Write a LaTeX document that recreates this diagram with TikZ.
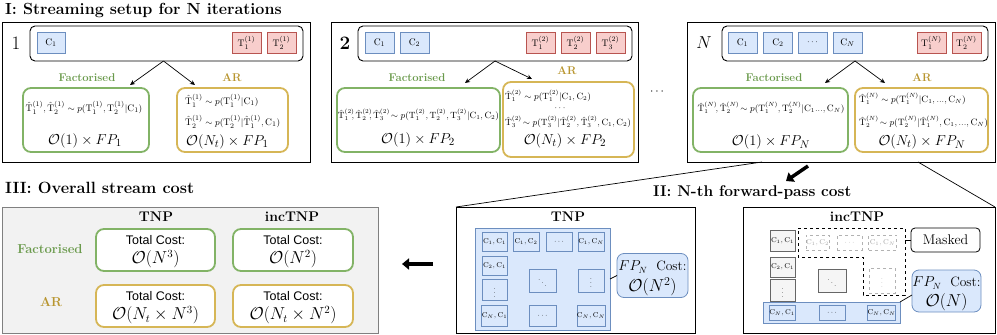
\documentclass[tikz,border=0pt]{standalone}
\usepackage{fontspec}
\newfontfamily\helv{Liberation Sans}
\usetikzlibrary{arrows.meta,calc}
\definecolor{fgreen}{HTML}{82B366}
\definecolor{agold}{HTML}{D6B656}
\definecolor{cblue}{HTML}{6C8EBF}
\definecolor{cfill}{HTML}{DAE8FC}
\definecolor{tred}{HTML}{B85450}
\definecolor{tfill}{HTML}{F8CECC}
\definecolor{flabc}{HTML}{6A9A4C}
\definecolor{alabc}{HTML}{B8952F}
\definecolor{gbg}{HTML}{F2F2F2}
\definecolor{gline}{HTML}{666666}
\definecolor{gcellf}{HTML}{F5F5F5}
\newcommand\fsz[1]{\fontsize{#1}{#1}\selectfont}
\newcommand\hT{\hat{\mathrm{T}}}
\newcommand\rT{\mathrm{T}}
\newcommand\rC{\mathrm{C}}
\begin{document}
\begin{tikzpicture}[x=1pt,y=-1pt,
  sz/.style 2 args={minimum width=#1pt, minimum height=#2pt, inner sep=0pt, outer sep=0pt},
  panel/.style={draw=black, line width=0.9pt},
  topbox/.style={draw=black, line width=0.9pt, rounded corners=5pt},
  cbox/.style={draw=cblue, fill=cfill, line width=0.8pt, font=\fsz{9.5}},
  tbox/.style={draw=tred, fill=tfill, line width=0.8pt, font=\fsz{9.5}},
  fbox/.style={draw=fgreen, line width=1.8pt, rounded corners=8pt, fill=white},
  abox/.style={draw=agold, line width=1.8pt, rounded corners=8pt, fill=white},
  flab/.style={text=flabc, font=\bfseries\fsz{11.3}, inner sep=0pt},
  alab/.style={text=alabc, font=\bfseries\fsz{11.3}, inner sep=0pt},
  titletext/.style={anchor=base west, font=\bfseries\fsz{15.5}, inner sep=0pt},
  frm/.style={font=\fsz{9.5}, inner sep=0pt},
  costbig/.style={font=\fsz{15}, inner sep=0pt},
  arr/.style={-{Stealth[length=5pt,width=4.5pt]}, line width=0.7pt},
  bigarrow/.style={line width=3.5pt, -{Triangle[length=7pt,width=11pt]}},
  cell/.style={draw=cblue, fill=cfill, line width=0.6pt, inner sep=0pt, font=\fsz{7}},
  gcell/.style={draw=gline, fill=gcellf, line width=0.6pt, inner sep=0pt, font=\fsz{7}},
  dcell/.style={draw=gray!60, dashed, line width=0.5pt, inner sep=0pt, font=\fsz{7}, text=gray!70},
  head/.style={font=\bfseries\fsz{14}, inner sep=0pt},
  tc/.style={font=\helv\fsz{12.5}, inner sep=0pt},
  tcm/.style={font=\fsz{16}, inner sep=0pt},
  fpbox/.style={draw=cblue, fill=cfill, line width=0.8pt, rounded corners=7pt, inner sep=0pt}
]
\useasboundingbox (0,0) rectangle (997,335);

% ---------- Titles ----------
\node[titletext, font=\bfseries\fsz{16.1}] (tI) at (5,14) {I: Streaming setup for N iterations};
\node[titletext] (tII) at (653,196) {II: N-th forward-pass cost};
\node[titletext, font=\bfseries\fsz{16.3}] (tIII) at (5,193) {III: Overall stream cost};

% ---------- Panel 1 ----------
\node[panel, sz={308}{140}] (p1) at (156,92) {};
\node[font=\fsz{19}, inner sep=0pt] (n1) at (16,43) {1};
\node[topbox, sz={273}{35}] (t1) at (166.5,43.5) {};
\node[cbox, sz={28}{21}] (c1a) at (51,42.5) {$\rC_1$};
\node[tbox, sz={29}{21}] (t1a) at (246.5,42.5) {$\rT_1^{(1)}$};
\node[tbox, sz={29}{21}] (t1b) at (281.5,42.5) {$\rT_2^{(1)}$};
\node[fbox, sz={126}{64}] (f1) at (86,120) {};
\node[abox, sz={111}{64}] (a1) at (232.5,120) {};
\node[flab] (fl1) at (87,78) {Factorised};
\node[alab] (al1) at (232,78) {AR};
\coordinate (e1f) at (130,85);
\coordinate (e1a) at (195,85);
\draw[arr] ([xshift=-3pt]t1.south) -- (e1f);
\draw[arr] ([xshift=-3pt]t1.south) -- (e1a);
\node[frm] (f1x) at (84,108) {$\hT_1^{(1)}, \hT_2^{(1)} \sim p(\rT_1^{(1)}, \rT_2^{(1)}|\rC_1)$};
\node[costbig] (f1y) at (85,141) {$\mathcal{O}(1)\times FP_1$};
\node[frm, anchor=west] (a1x) at (185,101) {$\hT_1^{(1)} \sim p(\rT_1^{(1)}|\rC_1)$};
\node[frm, anchor=west] (a1y) at (185,122) {$\hT_2^{(1)} \sim p(\rT_2^{(1)}|\hT_1^{(1)}, \rC_1)$};
\node[costbig, anchor=west] (a1z) at (186,142) {$\mathcal{O}(N_t)\times FP_1$};

% ---------- Panel 2 ----------
\node[panel, sz={307}{140}] (p2) at (484.5,92) {};
\node[font=\bfseries\fsz{19}, inner sep=0pt] (n2) at (345,43) {2};
\node[topbox, sz={274}{35}] (t2) at (495,43.5) {};
\node[cbox, sz={29}{21}] (c2a) at (379.5,42.5) {$\rC_1$};
\node[cbox, sz={29}{21}] (c2b) at (414.5,42.5) {$\rC_2$};
\node[tbox, sz={29}{21}] (t2a) at (540.5,42.5) {$\rT_1^{(2)}$};
\node[tbox, sz={29}{21}] (t2b) at (575.5,42.5) {$\rT_2^{(2)}$};
\node[tbox, sz={29}{21}] (t2c) at (610.5,42.5) {$\rT_3^{(2)}$};
\node[fbox, sz={163}{64}] (f2) at (418.5,120) {};
\node[abox, sz={131}{75}] (a2) at (568.5,119.5) {};
\node[flab] (fl2) at (417,78) {Factorised};
\node[alab] (al2) at (567,71) {AR};
\coordinate (e2f) at (465,83);
\coordinate (e2a) at (532,79);
\draw[arr] (t2.south) -- (e2f);
\draw[arr] (t2.south) -- (e2a);
\node[frm, font=\fsz{9}] (f2x) at (418.5,115) {$\hT_1^{(2)}\!\!,\hT_2^{(2)}\!\!,\hT_3^{(2)}\!\sim p(\rT_1^{(2)}, \rT_2^{(2)}, \rT_3^{(2)}|\rC_1, \rC_2)$};
\node[costbig] (f2y) at (418,140) {$\mathcal{O}(1)\times FP_2$};
\node[frm, font=\fsz{9}, anchor=west] (a2x) at (505,96) {$\hT_1^{(2)} \sim p(\rT_1^{(2)}|\rC_1, \rC_2)$};
\node[frm] (a2d) at (560,108) {$\cdots$};
\node[frm, font=\fsz{9}, anchor=west] (a2y) at (505,122) {$\hT_3^{(2)}\!\sim p(\rT_3^{(2)}|\hT_2^{(2)}, \hT_3^{(2)}, \rC_1, \rC_2)$};
\node[costbig] (a2z) at (565,141) {$\mathcal{O}(N_t)\times FP_2$};

\node[font=\fsz{12}, inner sep=0pt] (gap) at (657,92) {$\cdots$};

% ---------- Panel N ----------
\node[panel, sz={308}{140}] (pN) at (841,92) {};
\node[font=\fsz{19}, inner sep=0pt] (nN) at (704,43) {$N$};
\node[topbox, sz={266}{35}] (tN) at (855,43.5) {};
\node[cbox, sz={29}{21}] (cNa) at (742.5,42.5) {$\rC_1$};
\node[cbox, sz={29}{21}] (cNb) at (778,42.5) {$\rC_2$};
\node[cbox, sz={29}{21}] (cNc) at (812.5,42.5) {$\cdots$};
\node[cbox, sz={29}{21}] (cNd) at (847.5,42.5) {$\rC_N$};
\node[tbox, sz={29}{21}] (tNa) at (931.5,42.5) {$\rT_1^{(N)}$};
\node[tbox, sz={29}{21}] (tNb) at (966.5,42.5) {$\rT_2^{(N)}$};
\node[fbox, sz={155}{64}] (fN) at (770.5,120) {};
\node[abox, sz={133}{64}] (aN) at (921.5,120) {};
\node[flab] (flN) at (774,78) {Factorised};
\node[alab] (alN) at (922,78) {AR};
\coordinate (eNf) at (825,83);
\coordinate (eNa) at (885,83);
\draw[arr] (tN.south) -- (eNf);
\draw[arr] (tN.south) -- (eNa);
\node[frm, font=\fsz{9.2}] (fNx) at (771,108) {$\hT_1^{(N)}\!,\hT_2^{(N)}\!\sim p(\rT_1^{(N)}, \rT_2^{(N)}|\rC_1..., \rC_N)$};
\node[costbig] (fNy) at (771,142) {$\mathcal{O}(1)\times FP_N$};
\node[frm, font=\fsz{9.2}, anchor=west] (aNx) at (859,99) {$\hT_1^{(N)} \sim p(\rT_1^{(N)}|\rC_1, ..., \rC_N)$};
\node[frm, font=\fsz{9.2}, anchor=west] (aNy) at (859,122) {$\hT_2^{(N)}\!\sim p(\rT_2^{(N)}|\hT_1^{(N)}, \rC_1, ..., \rC_N)$};
\node[costbig] (aNz) at (922,142) {$\mathcal{O}(N_t)\times FP_N$};

% ---------- Section II: TNP ----------
\node[panel, sz={239}{126}] (tnp) at (575.5,270) {};
\node[head] (tnph) at (568,217) {TNP};
\node[cell, sz={135}{102}] (tnpg) at (542.5,279) {};
\node[cell, sz={25}{19}] (x11) at (494.5,241.5) {$\rC_1,\rC_1$};
\node[cell, sz={26}{19}] (x12) at (526,241.5) {$\rC_1,\rC_2$};
\node[cell, sz={26}{19}] (x13) at (559,241.5) {$\cdots$};
\node[cell, sz={26}{19}] (x14) at (591,241.5) {$\rC_1,\rC_N$};
\node[cell, sz={25}{19}] (x21) at (494.5,266) {$\rC_2,\rC_1$};
\node[cell, sz={25}{21}] (x31) at (494.5,290) {$\vdots$};
\node[cell, sz={25}{21}] (x41) at (494.5,315.5) {$\rC_N,\rC_1$};
\node[cell, sz={27}{23}] (xdd) at (542.5,280.5) {$\ddots$};
\node[cell, sz={26}{23}] (xv) at (591,280.5) {$\vdots$};
\node[cell, sz={27}{21}] (x42) at (542.5,315.5) {$\cdots$};
\node[cell, sz={26}{21}] (x44) at (591,315.5) {$\rC_N,\rC_N$};
\node[fpbox, sz={71}{44}] (fpT) at (652.5,275.5) {};
\node[font=\fsz{13.5}, inner sep=0pt] (fpTa) at (652.5,267) {$FP_N$\ \ Cost:};
\node[font=\fsz{17}, inner sep=0pt] (fpTb) at (652.5,287) {$\mathcal{O}(N^2)$};
\draw[line width=0.7pt] (tnpg.east) -- (fpT.west);

% ---------- Section II: incTNP ----------
\node[panel, sz={252}{126}] (inc) at (869,270) {};
\node[head] (inch) at (857,217) {incTNP};
\node[gcell, sz={25}{21}] (y11) at (782.5,241) {$\rC_1,\rC_1$};
\node[gcell, sz={25}{20}] (y21) at (782.5,267) {$\rC_2,\rC_1$};
\node[gcell, sz={25}{22}] (y31) at (782.5,290.5) {$\vdots$};
\node[gcell, sz={28}{23}] (ydd) at (832,280.5) {$\ddots$};
\node[dcell, sz={21}{15}] (y12) at (817.5,242.5) {$\rC_1,\rC_2$};
\node[dcell, sz={25}{15}] (y13) at (849.5,242.5) {$\cdots$};
\node[dcell, sz={28}{15}] (y14) at (882.5,242.5) {$\rC_1,\rC_N$};
\node[dcell, sz={26}{25}] (yv) at (882,280.5) {$\vdots$};
\draw[dashed, line width=0.7pt] (798,228) -- (905,228) -- (905,295) -- (863,295) -- (863,257) -- (798,257) -- cycle;
\coordinate (mreg) at (905,240);
\node[draw, line width=0.8pt, rounded corners=4pt, sz={69}{24}, font=\fsz{14}] (mask) at (945.5,240) {Masked};
\draw[line width=0.7pt] (mreg) -- (mask.west);
\node[cell, sz={137}{21}] (yrow) at (831.5,312.5) {};
\node[cell, sz={26}{15}] (yr1) at (782,312.5) {$\rC_N,\rC_1$};
\node[cell, sz={26}{15}] (yr2) at (832,312.5) {$\cdots$};
\node[cell, sz={27}{15}] (yr3) at (881.5,312.5) {$\rC_N,\rC_N$};
\node[fpbox, sz={69}{42}] (fpI) at (946.5,291) {};
\node[font=\fsz{13.5}, inner sep=0pt] (fpIa) at (946.5,283) {$FP_N$\ \ Cost:};
\node[font=\fsz{17}, inner sep=0pt] (fpIb) at (946.5,302) {$\mathcal{O}(N)$};
\draw[line width=0.7pt] (yrow.north east) -- ([yshift=-4pt]fpI.west);

% ---------- Zoom lines and arrows ----------
\coordinate (zl) at (762,162);
\coordinate (zr) at (918,162);
\draw[line width=0.7pt] (zl) -- (tnp.north west);
\draw[line width=0.7pt] (zr) -- (inc.north east);
\coordinate (ba1) at (808,166);
\coordinate (ba2) at (786,181);
\draw[bigarrow] (ba1) -- (ba2);

% ---------- Section III ----------
\node[draw=gray, fill=gbg, line width=0.9pt, sz={376}{126}] (iii) at (190,270) {};
\node[head] (h1) at (156,217) {TNP};
\node[head] (h2) at (292,217) {incTNP};
\node[text=flabc, font=\bfseries\fsz{13}, inner sep=0pt] (rl1) at (50,249) {Factorised};
\node[text=alabc, font=\bfseries\fsz{13}, inner sep=0pt] (rl2) at (51,302) {AR};
\node[fbox, sz={119}{42}] (q11) at (155.5,250) {};
\node[fbox, sz={120}{42}] (q12) at (293,250) {};
\node[abox, sz={119}{42}] (q21) at (155.5,306) {};
\node[abox, sz={120}{42}] (q22) at (293,306) {};
\node[tc] (q11a) at (155.5,240) {Total Cost:};
\node[tcm] (q11b) at (155.5,259) {$\mathcal{O}(N^3)$};
\node[tc] (q12a) at (293,240) {Total Cost:};
\node[tcm] (q12b) at (293,259) {$\mathcal{O}(N^2)$};
\node[tc] (q21a) at (155.5,296) {Total Cost:};
\node[tcm] (q21b) at (155.5,315) {$\mathcal{O}(N_t\times N^3)$};
\node[tc] (q22a) at (293,296) {Total Cost:};
\node[tcm] (q22b) at (293,315) {$\mathcal{O}(N_t\times N^2)$};
\coordinate (lb1) at (433,264);
\coordinate (lb2) at (402,264);
\draw[bigarrow] (lb1) -- (lb2);
\end{tikzpicture}
\end{document}
